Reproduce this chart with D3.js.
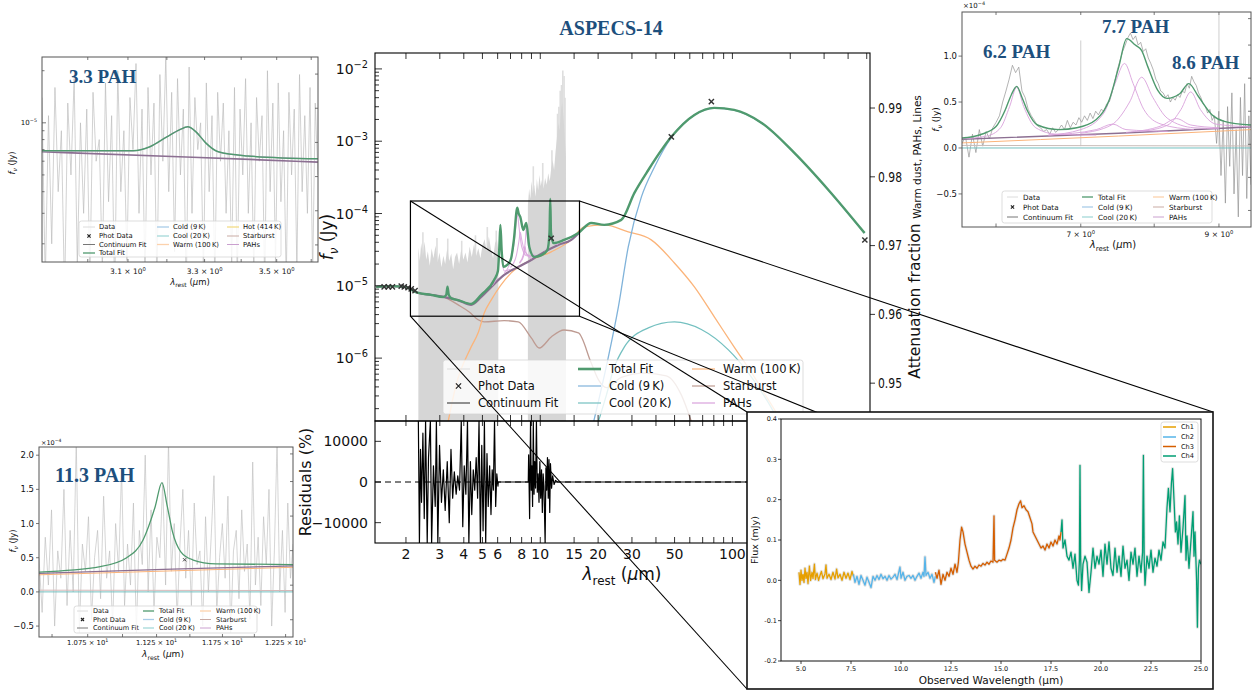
<!DOCTYPE html>
<html><head><meta charset="utf-8"><title>ASPECS-14</title>
<script src="https://cdn.jsdelivr.net/npm/d3@7"></script>
<style>
body{margin:0;background:#fff}
svg text{font-family:"DejaVu Sans",sans-serif;fill:#111}
svg text.serif{font-family:"Liberation Serif","Times New Roman",serif;font-weight:bold;fill:#1d4f7d}
</style></head>
<body><svg id="fig" width="1258" height="691"></svg>
<script>
// ---------------- main SED (rest wavelength um, flux Jy) ----------------
const totalFit = [[1.40,9.66e-6],[1.67,9.9e-6],[1.96,9.66e-6],[2.32,7.97e-6],[2.70,7.5e-6],[3.13,7.02e-6],[3.24,7.5e-6],[3.29,9.7e-6],[3.34,7.5e-6],[3.45,6.7e-6],[3.74,6.35e-6],[4.37,5.62e-6],[4.93,7.5e-6],[5.76,1.21e-5],[6.02,1.6e-5],[6.12,3.3e-5],[6.2,6.96e-5],[6.3,3.0e-5],[6.42,1.83e-5],[6.9,2.1e-5],[7.06,2.43e-5],[7.3,4.5e-5],[7.59,1.2e-4],[7.72,1.0e-4],[7.87,8.97e-5],[8.16,5.93e-5],[8.46,7.41e-5],[8.77,3.45e-5],[9.31,2.51e-5],[10.1,2.64e-5],[10.9,3.14e-5],[11.17,5.5e-5],[11.27,1.59e-4],[11.37,5.5e-5],[11.7,3.9e-5],[13.3,4.31e-5],[15.8,5.39e-5],[18.4,7.41e-5],[21.5,6.96e-5],[26.4,8.16e-5],[30.9,1.93e-4],[36.5,4.0e-4],[48.1,1.15e-3],[63.4,2.31e-3],[80.5,2.89e-3],[102,2.71e-3],[142,1.79e-3],[210,6.9e-4],[316,2.12e-4],[487,5.39e-5]];
const contFit = [[1.40,9.66e-6],[1.67,9.9e-6],[1.96,9.66e-6],[2.32,7.97e-6],[2.70,7.5e-6],[3.13,7.02e-6],[3.74,6.3e-6],[4.37,5.45e-6],[4.93,7.0e-6],[5.56,9.66e-6],[6.49,1.42e-5],[7.68,1.83e-5],[8.98,2.28e-5],[10.5,2.95e-5],[12.4,3.68e-5],[14.5,4.32e-5],[15.8,5.3e-5]];
const coldDust = [[19.0,1.35e-7],[22.1,7.8e-7],[25.5,5.1e-6],[28.7,3.45e-5],[33.6,1.7e-4],[39.3,4.4e-4],[48.1,1.13e-3],[63.4,2.3e-3],[80.5,2.88e-3],[102,2.7e-3],[142,1.78e-3],[210,6.9e-4],[316,2.1e-4],[487,5.35e-5]];
const coolDust = [[20.1,1.35e-7],[22.1,3.1e-7],[24.0,6.9e-7],[27.4,1.43e-6],[36.5,2.62e-6],[49.9,3.17e-6],[68.9,2.49e-6],[95.3,1.3e-6],[121,6.24e-7],[154,2.4e-7],[174,1.35e-7]];
const warmDust = [[3.32,1.35e-7],[3.65,4.3e-7],[4.37,1.43e-6],[4.75,2.24e-6],[5.11,4.2e-6],[5.56,6.38e-6],[7.06,1.51e-5],[8.98,2.28e-5],[11.4,2.95e-5],[14.5,4.32e-5],[16.9,6.53e-5],[21.5,6.96e-5],[28.7,5.57e-5],[37.8,4.32e-5],[49.9,2.07e-5],[63.4,9.66e-6],[80.5,3.72e-6],[102,1.43e-6],[126,6.24e-7],[154,2.64e-7],[180,1.35e-7]];
const starburst = [[1.40,9.66e-6],[1.67,9.9e-6],[1.96,9.66e-6],[2.32,7.97e-6],[2.70,7.5e-6],[3.13,7.02e-6],[3.74,5.45e-6],[4.27,4.35e-6],[4.75,3.39e-6],[5.11,3.17e-6],[6.49,3.3e-6],[7.68,3.17e-6],[8.98,1.9e-6],[9.88,1.38e-6],[11.4,1.96e-6],[13.3,2.45e-6],[15.8,2.23e-6],[18.4,8.6e-7],[20.1,5.0e-7],[22.1,3.9e-7],[26.4,5.4e-7],[34.8,6.2e-7],[45.3,5.7e-7],[54.2,3.1e-7],[61,1.35e-7]];
const pahFeatures = [
  [[3.1,7.0e-6],[3.24,7.5e-6],[3.29,9.5e-6],[3.34,7.5e-6],[3.5,6.7e-6]],
  [[5.6,1.0e-5],[5.95,1.35e-5],[6.1,2.6e-5],[6.2,6.5e-5],[6.3,2.6e-5],[6.5,1.6e-5],[7.0,1.7e-5]],
  [[6.5,1.5e-5],[7.0,2.2e-5],[7.3,3.8e-5],[7.5,7.5e-5],[7.6,1.0e-4],[7.75,6.5e-5],[8.0,3.5e-5],[8.5,2.6e-5],[9.5,2.6e-5]],
  [[7.0,1.8e-5],[7.5,2.6e-5],[7.75,4.2e-5],[7.87,5.5e-5],[8.0,4.4e-5],[8.3,3.0e-5],[9.0,2.5e-5]],
  [[7.8,2.05e-5],[8.2,2.6e-5],[8.33,3.5e-5],[8.45,2.8e-5],[9.0,2.35e-5]],
  [[7.8,2.1e-5],[8.2,2.8e-5],[8.38,4.5e-5],[8.46,6.5e-5],[8.6,4.2e-5],[8.9,2.9e-5],[9.5,2.6e-5]],
  [[10.5,3.0e-5],[11.0,3.6e-5],[11.2,7e-5],[11.27,1.5e-4],[11.35,7e-5],[11.6,4.0e-5],[12.4,3.7e-5]]
];
const photData = [[1.54,9.66e-6],[1.62,9.66e-6],[1.70,9.66e-6],[1.89,9.9e-6],[1.96,9.66e-6],[2.05,9.4e-6],[2.13,9.1e-6],[2.23,8.6e-6],[11.4,4.55e-5],[48.1,1.15e-3],[77.7,3.53e-3],[489,4.3e-5]];
// JWST spectrum drawn as a dense band: upper envelope of the plotted points
const sedDataA = [[2.32,3.4e-5],[2.36,2.2e-5],[2.40,3.9e-5],[2.45,2.6e-5],[2.50,4.1e-5],[2.55,2.3e-5],[2.60,3.0e-5],[2.66,1.9e-5],[2.72,3.3e-5],[2.78,2.4e-5],[2.85,3.6e-5],[2.92,2.1e-5],[2.99,2.9e-5],[3.06,1.8e-5],[3.13,2.6e-5],[3.2,2.0e-5],[3.28,3.3e-5],[3.36,2.2e-5],[3.44,2.8e-5],[3.52,1.7e-5],[3.6,2.5e-5],[3.69,2.9e-5],[3.78,2.0e-5],[3.88,3.2e-5],[3.98,2.3e-5],[4.08,2.9e-5],[4.18,2.1e-5],[4.29,3.5e-5],[4.4,2.5e-5],[4.52,3.8e-5],[4.64,2.6e-5],[4.76,3.3e-5],[4.88,2.4e-5],[5.0,3.6e-5],[5.13,4.4e-5],[5.26,3.0e-5],[5.4,4.8e-5],[5.54,3.2e-5],[5.68,2.4e-5],[5.82,3.9e-5],[5.95,4.4e-5],[6.05,3.0e-5]];
const sedDataB = [[8.62,1.3e-4],[8.75,2.2e-4],[8.88,1.6e-4],[9.0,2.8e-4],[9.15,1.9e-4],[9.3,2.5e-4],[9.45,1.7e-4],[9.6,3.0e-4],[9.75,2.1e-4],[9.9,3.4e-4],[10.05,2.4e-4],[10.2,2.9e-4],[10.4,2.2e-4],[10.6,3.1e-4],[10.8,2.5e-4],[11.0,3.6e-4],[11.2,2.8e-4],[11.4,4.2e-4],[11.6,5.5e-4],[11.8,4.0e-4],[12.0,7.0e-4],[12.2,1.1e-3],[12.4,1.8e-3],[12.6,1.4e-3],[12.8,2.6e-3],[13.0,3.5e-3],[13.2,2.2e-3],[13.4,1.2e-3],[13.6,6e-4]];
const sedSpikes = [[2.45,5.5e-5],[2.9,4.6e-5],[3.3,4.5e-5],[3.9,4.2e-5],[4.6,5e-5],[5.3,6.5e-5],[5.9,5.8e-5],[9.2,4.5e-4],[10.3,5.0e-4],[11.5,7.5e-4],[12.3,2.4e-3],[12.5,3.0e-3],[12.7,5.0e-3],[12.9,6.0e-3],[13.1,9.5e-3],[13.3,8.0e-3],[13.45,4.0e-3]];
const residuals = [[2.32,15000],[2.35,-15000],[2.38,8000],[2.41,-5000],[2.45,12000],[2.49,-9000],[2.53,15000],[2.58,-15000],[2.62,6000],[2.68,15000],[2.72,-15000],[2.78,4000],[2.84,-6000],[2.88,15000],[2.93,-15000],[2.99,9000],[3.06,-5000],[3.13,3000],[3.2,-7000],[3.28,5000],[3.36,-10000],[3.43,8000],[3.5,-4000],[3.57,2500],[3.65,-3000],[3.72,1500],[3.8,-2000],[3.88,15000],[3.95,-11000],[4.02,4000],[4.1,-3000],[4.18,15000],[4.25,-15000],[4.33,5000],[4.4,-8000],[4.48,3000],[4.56,-2000],[4.64,6000],[4.72,-4000],[4.8,15000],[4.88,-15000],[4.96,9000],[5.04,-12000],[5.12,15000],[5.2,-15000],[5.28,7000],[5.36,-6000],[5.45,4000],[5.54,-8000],[5.62,3000],[5.7,-2000],[5.78,15000],[5.86,-6000],[5.94,2000],[6.02,-1000],[6.05,0],
  [8.66,0],[8.7,6700],[8.8,-9000],[8.9,15000],[8.98,-2000],[9.05,4000],[9.12,-6000],[9.2,15000],[9.28,-3000],[9.36,5000],[9.45,-1500],[9.55,15000],[9.65,-2500],[9.75,2000],[9.85,-5000],[9.95,5000],[10.05,-4000],[10.15,3000],[10.25,-7500],[10.35,2000],[10.45,-1000],[10.6,-15000],[10.7,3500],[10.8,-2000],[10.9,6000],[11.0,-4000],[11.1,5500],[11.2,-7500],[11.3,4500],[11.45,-1500],[11.6,1500],[11.8,-600],[12.0,400],[12.3,0],[520,0]];
const zoomLam = [2.11, 16.0];
const zoomFlux = [3.8e-6, 1.49e-4];
const attTicks = [0.95, 0.96, 0.97, 0.98, 0.99];
const resTicks = [-10000, 0, 10000];
const xTickVals = [2,3,4,5,6,7,8,9,10,15,20,30,40,50,60,70,80,90,100,200,300,400,500];
const xTickLabels = [2,3,4,5,6,8,10,15,20,30,50,100,200,300];
const mainLegend = ["Data","Phot Data","Continuum Fit","Total Fit","Cold (9\u2009K)","Cool (20\u2009K)","Warm (100\u2009K)","Starburst","PAHs"];

// ---------------- 3.3 um inset ----------------
const p33Total = [[2.89,6.89e-6],[3.113,6.89e-6],[3.156,7.27e-6],[3.2,8.3e-6],[3.233,9.1e-6],[3.255,9.48e-6],[3.277,8.87e-6],[3.303,7.66e-6],[3.337,6.8e-6],[3.417,6.44e-6],[3.62,6.19e-6]];
const p33Cont = [[2.89,6.8e-6],[3.25,6.35e-6],[3.62,5.93e-6]];
const p33NoiseStart = 2.89, p33NoiseStep = 0.00768; // uJy
const p33Noise = [14,1.2,11,2,16,4,9,1.0,13,5,18,1.5,10,3,12,1.2,15,6,8,1.4,17,3.5,11,1.0,20,4,9,1.6,14,7,22,3,12,1.2,16,5,13,1.1,19,6,24,4,15,1.8,18,5,12,1.0,21,3,14,7,10,1.3,17,4,11,1.2,15,6,13,3,9,1.5,16,1.2,12,5,18,3,10,1.3,14,6,11,1.1,20,4,13,1.5,17,3.5,9,1.2,15,5,12,1.4,19,4,11,3,16,1.3,13,5];
const p33Legend = ["Data","Phot Data","Continuum Fit","Total Fit","Cold (9\u2009K)","Cool (20\u2009K)","Warm (100\u2009K)","Hot (414\u2009K)","Starburst","PAHs"];

// ---------------- 6.2 / 7.7 / 8.6 inset (1e-4 Jy) ----------------
const trTotal = [[5.64,0.108],[5.83,0.144],[6.0,0.233],[6.1,0.41],[6.17,0.58],[6.23,0.67],[6.29,0.55],[6.35,0.41],[6.47,0.25],[6.73,0.2],[6.95,0.22],[7.2,0.31],[7.37,0.52],[7.5,0.88],[7.61,1.19],[7.73,1.12],[7.82,1.06],[7.91,0.88],[8.05,0.63],[8.19,0.54],[8.38,0.59],[8.52,0.70],[8.67,0.56],[8.89,0.36],[9.09,0.29],[9.54,0.25]];
const trCont = [[5.64,0.095],[7.5,0.16],[9.54,0.23]];
const trWarm = [[5.64,0.055],[7.5,0.13],[9.54,0.2]];
const trStar = [[5.64,0.028],[9.54,0.022]];
const trCold = [[5.64,0.0],[9.54,0.0]];
const trPahs = [
  [[5.64,0.1],[5.9,0.13],[6.05,0.22],[6.15,0.45],[6.23,0.66],[6.31,0.45],[6.45,0.22],[6.7,0.15],[7.2,0.14]],
  [[6.6,0.14],[7.0,0.2],[7.3,0.38],[7.45,0.7],[7.58,0.92],[7.7,0.7],[7.85,0.42],[8.1,0.26],[8.6,0.2]],
  [[7.0,0.16],[7.4,0.25],[7.65,0.5],[7.82,0.77],[7.98,0.55],[8.2,0.32],[8.6,0.22],[9.0,0.21]],
  [[7.8,0.18],[8.2,0.25],[8.4,0.42],[8.55,0.61],[8.7,0.42],[8.95,0.26],[9.54,0.23]],
  [[7.6,0.17],[8.1,0.24],[8.33,0.32],[8.55,0.25],[9.0,0.22]],
  [[6.6,0.14],[7.2,0.2],[7.42,0.26],[7.6,0.2],[8.2,0.18]]
];
const trNoiseStart = 5.64, trNoiseStep = 0.0361;
const trNoise = [0.05,0.12,-0.1,0.15,-0.05,0.2,0.02,0.18,0.1,0.22,0.28,0.35,0.5,0.62,0.75,0.9,0.82,0.88,0.62,0.55,0.42,0.35,0.3,0.24,0.22,0.18,0.2,0.15,0.22,0.17,0.2,0.25,0.2,0.3,0.22,0.28,0.25,0.33,0.28,0.35,0.3,0.38,0.32,0.4,0.36,0.42,0.4,0.48,0.5,0.6,0.72,0.85,0.95,1.05,1.12,1.2,1.25,1.18,1.22,1.12,1.15,1.05,1.08,0.98,0.92,0.85,0.75,0.7,0.62,0.6,0.55,0.58,0.5,0.55,0.52,0.58,0.55,0.62,0.6,0.7,0.65,0.78,0.72,0.68,0.6,0.55,0.48,0.45,0.38,0.42,0.3,0.35,0.05,0.4,-0.3,0.3,-0.6,0.45,-0.2,0.6,-0.5,0.2,-0.75,0.55,-0.3,0.7,-0.55,0.35,-0.4];
const trSpikes = [[7.0,1.17],[9.0,1.45]];

// ---------------- 11.3 um inset (1e-4 Jy) ----------------
const p113Total = [[10.41,0.29],[10.84,0.37],[11.03,0.5],[11.15,0.76],[11.24,1.25],[11.29,1.6],[11.33,1.25],[11.37,0.87],[11.43,0.59],[11.52,0.47],[11.7,0.41],[12.31,0.4]];
const p113Cont = [[10.41,0.27],[11.3,0.33],[12.31,0.38]];
const p113Warm = [[10.41,0.25],[12.31,0.36]];
const p113Star = [[10.41,0.025],[12.31,0.02]];
const p113Cold = [[10.41,0.0],[12.31,0.0]];
const p113Phot = [[11.46,0.47]];
const p113NoiseStart = 10.41, p113NoiseStep = 0.0216;
const p113Noise = [0.5,-0.3,0.8,0.1,1.2,-0.5,0.6,0.2,1.5,-0.2,0.9,0.0,2.2,-0.6,0.7,0.3,1.1,-0.4,0.5,0.9,-0.1,1.4,0.2,0.6,-0.5,1.0,0.3,1.8,-0.2,0.7,0.1,1.3,-0.6,0.9,0.4,2.0,0.0,1.2,-0.3,0.8,0.5,1.6,0.1,2.2,0.3,1.0,-0.4,0.7,1.5,0.2,0.9,-0.2,1.3,0.4,0.6,-0.5,1.1,0.0,0.8,1.7,-0.3,0.5,1.0,0.2,1.4,-0.6,0.6,0.9,-0.1,1.2,0.3,0.7,-0.4,1.9,0.1,0.8,-0.2,1.1,0.4,1.5,-0.5,0.6,2.2,0.0,0.9,-0.3,1.3,0.2,0.7];

// ---------------- MIRI spectrum (observed um, mJy) ----------------
const ch1 = [[4.9,0.02],[4.95,-0.01],[5.0,0.025],[5.05,0.0],[5.1,0.015],[5.15,-0.005],[5.2,0.03],[5.25,0.005],[5.3,0.02],[5.35,-0.008],[5.42,0.035],[5.48,0.0],[5.55,0.02],[5.6,0.005],[5.67,0.04],[5.72,0.002],[5.8,0.018],[5.88,0.0],[5.95,0.012],[6.02,0.022],[6.1,0.004],[6.2,0.016],[6.25,0.038],[6.3,0.005],[6.4,0.015],[6.5,0.002],[6.6,0.02],[6.7,0.003],[6.78,0.028],[6.85,0.006],[6.95,0.015],[7.05,0.0],[7.15,0.02],[7.25,0.005],[7.35,0.018],[7.45,0.002],[7.55,0.022],[7.62,0.01]];
const ch2 = [[7.62,0.015],[7.7,-0.005],[7.8,0.01],[7.9,-0.01],[8.0,0.012],[8.1,0.0],[8.2,-0.012],[8.3,0.008],[8.4,-0.005],[8.5,-0.018],[8.6,0.01],[8.7,0.0],[8.8,0.012],[8.9,0.002],[9.0,0.015],[9.1,0.004],[9.2,0.01],[9.3,0.0],[9.4,0.012],[9.5,0.003],[9.6,0.008],[9.7,0.015],[9.8,0.002],[9.95,0.033],[10.0,0.005],[10.1,0.02],[10.2,0.0],[10.3,0.01],[10.4,0.012],[10.5,0.005],[10.6,0.012],[10.7,0.0],[10.8,0.01],[10.9,0.018],[11.0,0.005],[11.1,0.02],[11.15,0.01],[11.2,0.058],[11.25,0.012],[11.35,0.02],[11.45,0.005],[11.55,0.015],[11.65,-0.005],[11.72,0.01]];
const ch3 = [[11.72,0.02],[11.8,0.005],[11.9,0.025],[12.0,-0.01],[12.1,0.015],[12.2,0.0],[12.3,0.02],[12.4,0.01],[12.5,0.03],[12.6,0.015],[12.7,0.04],[12.8,0.02],[12.87,0.045],[12.95,0.1],[13.03,0.132],[13.1,0.12],[13.2,0.09],[13.3,0.07],[13.4,0.05],[13.5,0.035],[13.6,0.028],[13.7,0.035],[13.8,0.03],[13.9,0.038],[14.0,0.035],[14.1,0.042],[14.2,0.038],[14.3,0.045],[14.4,0.04],[14.5,0.048],[14.6,0.045],[14.65,0.16],[14.68,0.05],[14.8,0.045],[14.9,0.05],[15.0,0.048],[15.1,0.052],[15.2,0.05],[15.3,0.065],[15.4,0.08],[15.5,0.1],[15.6,0.13],[15.7,0.15],[15.8,0.175],[15.9,0.19],[15.98,0.197],[16.05,0.18],[16.15,0.185],[16.25,0.175],[16.35,0.17],[16.45,0.155],[16.55,0.14],[16.6,0.12],[16.7,0.11],[16.8,0.1],[16.9,0.09],[17.0,0.08],[17.1,0.085],[17.2,0.075],[17.3,0.09],[17.4,0.08],[17.5,0.095],[17.6,0.085],[17.7,0.1],[17.8,0.09],[17.9,0.11],[17.95,0.1],[18.0,0.12]];
const ch4 = [[18.0,0.12],[18.05,0.15],[18.1,0.08],[18.2,0.1],[18.3,0.06],[18.4,0.05],[18.5,0.07],[18.6,0.03],[18.7,0.065],[18.8,0.0],[18.87,-0.012],[18.92,0.05],[18.95,0.285],[18.98,0.06],[19.03,-0.025],[19.1,0.04],[19.2,0.06],[19.3,0.045],[19.4,-0.03],[19.5,0.02],[19.6,0.08],[19.7,0.03],[19.8,0.06],[19.9,0.04],[20.0,0.075],[20.1,0.01],[20.2,0.09],[20.3,0.04],[20.4,0.095],[20.5,0.03],[20.6,0.012],[20.7,0.08],[20.8,0.02],[20.9,0.06],[21.0,0.01],[21.1,0.085],[21.2,0.03],[21.3,0.05],[21.4,0.0],[21.5,0.07],[21.6,0.04],[21.7,0.08],[21.8,0.01],[21.9,0.06],[22.0,0.02],[22.08,0.07],[22.12,0.31],[22.16,0.05],[22.2,-0.012],[22.3,0.06],[22.4,0.03],[22.5,0.075],[22.6,0.02],[22.7,0.055],[22.8,0.035],[22.9,0.075],[23.0,0.05],[23.1,0.095],[23.2,0.08],[23.3,0.18],[23.37,0.228],[23.45,0.17],[23.52,0.24],[23.58,0.277],[23.65,0.2],[23.72,0.12],[23.78,0.145],[23.85,0.09],[23.92,0.16],[24.0,0.07],[24.1,0.13],[24.2,0.21],[24.25,0.05],[24.3,0.11],[24.4,0.03],[24.5,0.1],[24.6,0.17],[24.65,0.06],[24.7,0.12],[24.78,0.0],[24.82,-0.116],[24.87,0.03],[24.92,0.05],[25.0,0.04]];
const chNames = ["Ch1","Ch2","Ch3","Ch4"];

const col = {total:"#4f9a6e", cold:"#80b3da", cool:"#74c0c0", warm:"#fbb47a", hot:"#f3dc86",
  star:"#be9b92", pah:"#d9a2dc", cont:"#8c6f92", contLeg:"#8f8f8f",
  ch:["#E69F00","#56B4E9","#D55E00","#009E73"]};

// ---------------- helpers ----------------
const svg = d3.select("#fig");
const defs = svg.append("defs");

function clipTo(id, b){
  defs.append("clipPath").attr("id", id).append("rect")
    .attr("x", b.l).attr("y", b.t).attr("width", b.r - b.l).attr("height", b.b - b.t);
  return `url(#${id})`;
}
function frame(g, b, stroke, w){
  g.append("rect").attr("x", b.l).attr("y", b.t).attr("width", b.r - b.l).attr("height", b.b - b.t)
    .attr("fill", "none").attr("stroke", stroke).attr("stroke-width", w);
}
function ticksX(g, sc, vals, y, len, stroke){
  g.append("g").selectAll("line").data(vals).join("line")
    .attr("x1", d => sc(d)).attr("x2", d => sc(d)).attr("y1", y).attr("y2", y + len)
    .attr("stroke", stroke).attr("stroke-width", 0.8);
}
function ticksY(g, sc, vals, x, len, stroke){
  g.append("g").selectAll("line").data(vals).join("line")
    .attr("y1", d => sc(d)).attr("y2", d => sc(d)).attr("x1", x).attr("x2", x + len)
    .attr("stroke", stroke).attr("stroke-width", 0.8);
}
function richText(g, x, y, parts, size, rot, anchor){
  const t = g.append("text").attr("font-size", size).attr("text-anchor", anchor || "middle")
    .attr("transform", `translate(${x},${y})` + (rot ? ` rotate(${rot})` : ""));
  let cur = 0;
  parts.forEach(p => {
    const s = t.append("tspan").text(p.t);
    const off = p.sub ? 0.28 * size : (p.sup ? -0.42 * size : 0);
    if (off !== cur) { s.attr("dy", off - cur); cur = off; }
    if (p.sub || p.sup) s.attr("font-size", size * 0.7);
    if (p.i) s.attr("font-style", "italic");
  });
  return t;
}
const lamParts = [{t:"λ",i:true},{t:"rest",sub:true},{t:" ("},{t:"μ",i:true},{t:"m)"}];
const fnuParts = [{t:"f",i:true},{t:"ν",sub:true,i:true},{t:" (Jy)"}];

function cross(g, x, y, s, color, w){
  g.append("path").attr("d", `M${x-s},${y-s}L${x+s},${y+s}M${x-s},${y+s}L${x+s},${y-s}`)
    .attr("stroke", color).attr("stroke-width", w || 1.5).attr("fill", "none");
}
function lineOf(sx, sy, curve){
  return d3.line().x(d => sx(d[0])).y(d => sy(d[1])).curve(curve || d3.curveMonotoneX);
}
function draw(g, data, gen, color, w, op){
  return g.append("path").datum(data).attr("d", gen).attr("fill", "none")
    .attr("stroke", color).attr("stroke-width", w).attr("stroke-opacity", op == null ? 1 : op)
    .attr("stroke-linejoin", "round");
}
function legend(g, box, items, o){
  g.append("rect").attr("x", box.x).attr("y", box.y).attr("width", box.w).attr("height", box.h)
    .attr("rx", 2.5).attr("fill", "#fff").attr("fill-opacity", 0.82)
    .attr("stroke", "#d4d4d4").attr("stroke-width", 0.8);
  items.forEach(it => {
    const x = box.x + o.colX[it.c], y = box.y + o.rowY[it.r];
    if (it.marker) cross(g, x + o.sw / 2, y, o.ms, "#222", 1.2);
    else g.append("line").attr("x1", x).attr("x2", x + o.sw).attr("y1", y).attr("y2", y)
      .attr("stroke", it.color).attr("stroke-width", it.w || 1);
    g.append("text").attr("x", x + o.sw + o.gap).attr("y", y).attr("dy", "0.35em")
      .attr("font-size", o.fs).text(it.label);
  });
}
const insetLegStyle = [{color:"#dcdcdc"},{marker:true},{color:"#777"},{color:col.total,w:1.3},{color:"#a9cce8",w:1.3},{color:"#a5d8d8",w:1.3},{color:"#fcd2ac",w:1.3},{color:"#c9aba4"},{color:"#caa0cf"}];

// ================= MAIN PANEL =================
const mainBox = {l:375, r:870, t:53, b:421};
const resBox = {l:375, r:870, t:421, b:543};
const xMain = d3.scaleLog().domain([1.38, 520]).range([mainBox.l, mainBox.r]);
const yMain = d3.scaleLog().domain([1.35e-7, 1.66e-2]).range([mainBox.b, mainBox.t]);
const yAtt = d3.scaleLinear().domain([0.9445, 0.998]).range([mainBox.b, mainBox.t]);
const yRes = d3.scaleLinear().domain([-15000, 15000]).range([resBox.b, resBox.t]);

const gMain = svg.append("g");
const cMain = gMain.append("g").attr("clip-path", clipTo("cmain", mainBox));
cMain.selectAll(".spike").data(sedSpikes).join("line")
  .attr("x1", d => xMain(d[0])).attr("x2", d => xMain(d[0]))
  .attr("y1", mainBox.b).attr("y2", d => yMain(d[1]))
  .attr("stroke", "#dedede").attr("stroke-width", 1.6);
const areaMain = d3.area().x(d => xMain(d[0])).y0(mainBox.b).y1(d => yMain(d[1])).curve(d3.curveLinear);
[sedDataA, sedDataB].forEach(d => cMain.append("path").datum(d).attr("d", areaMain)
  .attr("fill", "#d6d6d6"));

const lm = lineOf(xMain, yMain);
draw(cMain, starburst, lm, col.star, 1.3);
draw(cMain, warmDust, lm, col.warm, 1.3);
draw(cMain, coolDust, lm, col.cool, 1.3);
draw(cMain, coldDust, lm, col.cold, 1.3);
draw(cMain, contFit, lm, col.cont, 2.2);
pahFeatures.forEach(p => draw(cMain, p, lm, col.pah, 1.1, 0.85));
draw(cMain, totalFit, lm, col.total, 2.4);
photData.forEach(d => cross(cMain, xMain(d[0]), yMain(d[1]), 2.6, "#333", 1.4));

// main legend
const legItems = mainLegend.map((lab, i) => ({label: lab, c: Math.floor(i / 3), r: i % 3}));
const legStyle = [{color:"#dcdcdc",w:1},{marker:true},{color:col.contLeg,w:2},{color:col.total,w:2.6},
  {color:col.cold,w:1.2},{color:col.cool,w:1.2},{color:col.warm,w:1.2},{color:col.star,w:1.2},{color:col.pah,w:1.2}];
legItems.forEach((it, i) => Object.assign(it, legStyle[i]));
legend(cMain, {x:443, y:360, w:360, h:54}, legItems, {colX:[4,135,249], rowY:[9,26,43], sw:23, gap:8, fs:11.5, ms:2.6});

frame(gMain, mainBox, "#000", 1.1);
ticksX(gMain, xMain, xTickVals, mainBox.t, 6, "#000");
ticksX(gMain, xMain, xTickVals, mainBox.b, -6, "#000");
ticksX(gMain, xMain, xTickVals, resBox.t, 5, "#000");
ticksX(gMain, xMain, xTickVals, resBox.b, -6, "#000");
const yMajor = [1e-6, 1e-5, 1e-4, 1e-3, 1e-2];
const yMinor = [];
for (let e = -7; e <= -2; e++) for (let m = 2; m <= 9; m++) {
  const v = m * Math.pow(10, e);
  if (v > 1.35e-7 && v < 1.66e-2) yMinor.push(v);
}
ticksY(gMain, yMain, yMajor, mainBox.l, 7, "#000");
ticksY(gMain, yMain, yMinor, mainBox.l, 4, "#000");
yMajor.forEach(v => richText(gMain, 368, yMain(v) + 5, [{t:"10"},{t:"−" + Math.round(-Math.log10(v)), sup:true}], 14, 0, "end"));
// right attenuation axis
ticksY(gMain, yAtt, attTicks, mainBox.r, 5, "#000");
attTicks.forEach(v => gMain.append("text")
  .attr("transform", `translate(878,${yAtt(v)}) scale(0.8,1)`).attr("dy", "0.36em")
  .attr("font-size", 13.5).text(v.toFixed(2)));
richText(gMain, 920, 301, [{t:"Attenuation fraction"}], 15.5, -90);
richText(gMain, 921, 157, [{t:"Warm dust, PAHs, Lines"}], 10.5, -90);
richText(gMain, 333, (mainBox.t + mainBox.b) / 2, fnuParts, 17, -90);

// residual panel
const gRes = svg.append("g");
const cRes = gRes.append("g").attr("clip-path", clipTo("cres", resBox));
cRes.append("line").attr("x1", resBox.l).attr("x2", resBox.r).attr("y1", yRes(0)).attr("y2", yRes(0))
  .attr("stroke", "#000").attr("stroke-dasharray", "6,4").attr("stroke-width", 1.2);
draw(cRes, residuals, lineOf(xMain, yRes, d3.curveLinear), "#000", 1.2);
frame(gRes, resBox, "#000", 1.1);
ticksY(gRes, yRes, resTicks, resBox.l, 6, "#000");
resTicks.forEach(v => gRes.append("text").attr("x", 368).attr("y", yRes(v)).attr("dy", "0.36em")
  .attr("text-anchor", "end").attr("font-size", 14).text(v < 0 ? "−" + Math.abs(v) : v));
xTickLabels.forEach(v => gRes.append("text").attr("x", xMain(v)).attr("y", 559)
  .attr("text-anchor", "middle").attr("font-size", 14).text(v));
richText(gRes, 311, (resBox.t + resBox.b) / 2, [{t:"Residuals (%)"}], 16, -90);
richText(gRes, 622, 580, lamParts, 17, 0);

svg.append("text").attr("class", "serif").attr("x", 611).attr("y", 35).attr("text-anchor", "middle")
  .attr("font-size", 20).text("ASPECS-14");

// zoom box + connectors
const zb = {l: xMain(zoomLam[0]), r: xMain(zoomLam[1]), t: yMain(zoomFlux[1]), b: yMain(zoomFlux[0])};
const gZoom = svg.append("g");
frame(gZoom, zb, "#000", 1.2);
const spOuter = {l:747, t:412, r:1213, b:689};
[[zb.l, zb.t, spOuter.l, spOuter.t], [zb.l, zb.b, spOuter.l, spOuter.b],
 [zb.r, zb.t, spOuter.r, spOuter.t], [zb.r, zb.b, spOuter.r, 573]].forEach(s =>
  gZoom.append("line").attr("x1", s[0]).attr("y1", s[1]).attr("x2", s[2]).attr("y2", s[3])
    .attr("stroke", "#000").attr("stroke-width", 1.1));

// ================= INSET: 3.3 PAH =================
{
  const b = {l:42, r:318, t:57, b:262};
  const x = d3.scaleLog().domain([2.89, 3.62]).range([b.l, b.r]);
  const y = d3.scaleLog().domain([1.57e-6, 2.4e-5]).range([b.b, b.t]);
  const twin = d3.scaleLinear().domain([0, 6]).range([b.b, b.t]);
  const g = svg.append("g");
  const c = g.append("g").attr("clip-path", clipTo("c33", b));
  const noise = p33Noise.map((v, i) => [p33NoiseStart + i * p33NoiseStep, v * 1e-6]);
  draw(c, noise, lineOf(x, y, d3.curveLinear), "#b8b8b8", 0.8, 0.8);
  const l = lineOf(x, y);
  draw(c, p33Cont, l, col.cont, 1.6);
  draw(c, p33Total, l, col.pah, 1.2);
  draw(c, p33Total, l, col.total, 1.5);
  frame(g, b, "#555", 1);
  const minor = [2e-6,3e-6,4e-6,5e-6,6e-6,7e-6,8e-6,9e-6,2e-5];
  ticksY(g, y, [1e-5], b.l, 4, "#555"); ticksY(g, y, minor, b.l, 2.5, "#555");
  ticksY(g, twin, [0.5,1.5,2.5,3.5,4.5,5.5], b.r, -3, "#555");
  const xt = [3.0,3.1,3.2,3.3,3.4,3.5,3.6];
  ticksX(g, x, xt, b.b, -3, "#555"); ticksX(g, x, xt, b.t, 3, "#555");
  richText(g, 37, y(1e-5) + 2.5, [{t:"10"},{t:"−5", sup:true}], 7, 0, "end");
  [3.1, 3.3, 3.5].forEach(v => richText(g, x(v), 274, [{t:v.toFixed(1) + " × 10"},{t:"0", sup:true}], 7.5, 0));
  richText(g, 190, 285, lamParts, 8.5, 0);
  richText(g, 15, 163, fnuParts, 8.5, -90);
  g.append("text").attr("class", "serif").attr("x", 69).attr("y", 83).attr("font-size", 19).text("3.3 PAH");
  const items = p33Legend.map((lab, i) => i < 4 ? {label: lab, c: 0, r: i} : i < 7 ? {label: lab, c: 1, r: i - 4} : {label: lab, c: 2, r: i - 7});
  const st = [{color:"#dcdcdc"},{marker:true},{color:"#777"},{color:col.total,w:1.3},{color:"#a9cce8",w:1.3},{color:"#a5d8d8",w:1.3},{color:"#fcd2ac",w:1.3},{color:col.hot,w:1.3},{color:"#c9aba4"},{color:"#caa0cf"}];
  items.forEach((it, i) => Object.assign(it, st[i]));
  legend(g, {x:79, y:221, w:202, h:36}, items, {colX:[4,78,148], rowY:[6,15,23.5,32], sw:12, gap:4, fs:6.8, ms:1.6});
}

// ================= INSET: 6.2 / 7.7 / 8.6 PAH =================
{
  const b = {l:962, r:1251, t:12, b:227};
  const x = d3.scaleLog().domain([5.64, 9.54]).range([b.l, b.r]);
  const y = d3.scaleLinear().domain([-0.86, 1.48]).range([b.b, b.t]);
  const twin = d3.scaleLinear().domain([0, 6.5]).range([b.b, b.t]);
  const g = svg.append("g");
  const c = g.append("g").attr("clip-path", clipTo("ctr", b));
  trSpikes.forEach(s => c.append("line").attr("x1", x(s[0])).attr("x2", x(s[0])).attr("y1", y(0.02)).attr("y2", y(s[1]))
    .attr("stroke", "#c8c8c8").attr("stroke-width", 0.9));
  const noise = trNoise.map((v, i) => [trNoiseStart + i * trNoiseStep, v]);
  draw(c, noise, lineOf(x, y, d3.curveLinear), "#8f8f8f", 0.9, 0.75);
  const l = lineOf(x, y);
  draw(c, trCold, l, col.cool, 1);
  draw(c, trStar, l, "#c8bcb8", 1);
  draw(c, trWarm, l, col.warm, 1);
  draw(c, trCont, l, col.cont, 1.4);
  trPahs.forEach(p => draw(c, p, l, col.pah, 1, 0.9));
  draw(c, trTotal, l, col.total, 1.4);
  frame(g, b, "#555", 1);
  const yt = [-0.5, 0, 0.5, 1.0];
  ticksY(g, y, yt, b.l, -3.5, "#555");
  ticksY(g, twin, [0.5,1.5,2.5,3.5,4.5,5.5,6.3], b.r, -3, "#555");
  yt.forEach(v => g.append("text").attr("x", 957).attr("y", y(v)).attr("dy", "0.36em").attr("text-anchor", "end")
    .attr("font-size", 8.5).text(v < 0 ? "−" + Math.abs(v).toFixed(1) : v.toFixed(1)));
  ticksX(g, x, [6,7,8,9], b.b, -3.5, "#555"); ticksX(g, x, [6,7,8,9], b.t, 3, "#555");
  [7, 9].forEach(v => richText(g, x(v), 237, [{t:v + " × 10"},{t:"0", sup:true}], 7.5, 0));
  richText(g, 1113, 248, lamParts, 10, 0);
  richText(g, 939, (b.t + b.b) / 2, fnuParts, 9, -90);
  richText(g, 963, 8, [{t:"×10"},{t:"−4", sup:true}], 7, 0, "start");
  g.append("text").attr("class", "serif").attr("x", 983).attr("y", 58).attr("font-size", 19).text("6.2 PAH");
  g.append("text").attr("class", "serif").attr("x", 1102).attr("y", 33).attr("font-size", 19).text("7.7 PAH");
  g.append("text").attr("class", "serif").attr("x", 1172).attr("y", 69).attr("font-size", 19).text("8.6 PAH");
  const items = mainLegend.map((lab, i) => Object.assign({label: lab, c: Math.floor(i / 3), r: i % 3}, insetLegStyle[i]));
  legend(g, {x:1002, y:191, w:210, h:32}, items, {colX:[5,80,151], rowY:[6,16,26], sw:11, gap:5, fs:7.2, ms:1.6});
}

// ================= INSET: 11.3 PAH =================
{
  const b = {l:39, r:293, t:447, b:637};
  const x = d3.scaleLog().domain([10.41, 12.31]).range([b.l, b.r]);
  const y = d3.scaleLinear().domain([-0.66, 2.12]).range([b.b, b.t]);
  const twin = d3.scaleLinear().domain([0, 5.5]).range([b.b, b.t]);
  const g = svg.append("g");
  const c = g.append("g").attr("clip-path", clipTo("c113", b));
  const noise = p113Noise.map((v, i) => [p113NoiseStart + i * p113NoiseStep, v]);
  draw(c, noise, lineOf(x, y, d3.curveLinear), "#bdbdbd", 0.8, 0.8);
  const l = lineOf(x, y);
  draw(c, p113Cold, l, col.cool, 1);
  draw(c, p113Star, l, "#d6b8b8", 1);
  draw(c, p113Warm, l, col.warm, 1);
  draw(c, p113Cont, l, col.cont, 1.3);
  draw(c, p113Total, l, col.total, 1.3);
  p113Phot.forEach(d => cross(c, x(d[0]), y(d[1]), 1.6, "#444", 1));
  frame(g, b, "#555", 1);
  const yt = [-0.5, 0, 0.5, 1.0, 1.5, 2.0];
  ticksY(g, y, yt, b.l, -3, "#555");
  ticksY(g, twin, [0.5,1.5,2.5,3.5,4.5,5.3], b.r, -3, "#555");
  yt.forEach(v => g.append("text").attr("x", 34).attr("y", y(v)).attr("dy", "0.36em").attr("text-anchor", "end")
    .attr("font-size", 8.5).text(v < 0 ? "−" + Math.abs(v).toFixed(1) : v.toFixed(1)));
  const xt = [10.5,10.75,11,11.25,11.5,11.75,12,12.25];
  ticksX(g, x, xt, b.b, -3, "#555");
  [10.75, 11.25, 11.75, 12.25].forEach(v => richText(g, x(v), 645, [{t:(v / 10).toFixed(3) + " × 10"},{t:"1", sup:true}], 6.8, 0));
  richText(g, 163, 657, lamParts, 9, 0);
  richText(g, 16, 541, fnuParts, 8.5, -90);
  richText(g, 41, 445, [{t:"×10"},{t:"−4", sup:true}], 6.5, 0, "start");
  g.append("text").attr("class", "serif").attr("x", 55).attr("y", 482).attr("font-size", 20).text("11.3 PAH");
  const items = mainLegend.map((lab, i) => Object.assign({label: lab, c: Math.floor(i / 3), r: i % 3}, insetLegStyle[i]));
  legend(g, {x:74, y:606, w:183, h:27}, items, {colX:[3,69,126], rowY:[5,13.5,22], sw:11, gap:5, fs:6.6, ms:1.5});
}

// ================= INSET: MIRI spectrum =================
{
  const g = svg.append("g");
  g.append("rect").attr("x", spOuter.l).attr("y", spOuter.t).attr("width", spOuter.r - spOuter.l)
    .attr("height", spOuter.b - spOuter.t).attr("fill", "#fff").attr("stroke", "#111").attr("stroke-width", 1.6);
  const b = {l:781, r:1201, t:419, b:661};
  const x = d3.scaleLinear().domain([4, 25]).range([b.l, b.r]);
  const y = d3.scaleLinear().domain([-0.2, 0.4]).range([b.b, b.t]);
  const c = g.append("g").attr("clip-path", clipTo("csp", b));
  const l = lineOf(x, y, d3.curveLinear);
  [ch1, ch2, ch3, ch4].forEach(d => draw(c, d, l, "#e4e4e4", 3.2));
  [ch1, ch2, ch3, ch4].forEach((d, i) => draw(c, d, l, col.ch[i], 1.3));
  frame(g, b, "#111", 1);
  const yt = [-0.2,-0.1,0,0.1,0.2,0.3,0.4];
  ticksY(g, y, yt, b.l, -3, "#111");
  yt.forEach(v => g.append("text").attr("x", 777).attr("y", y(v)).attr("dy", "0.36em").attr("text-anchor", "end")
    .attr("font-size", 6.5).text(v.toFixed(1)));
  const xt = [5,7.5,10,12.5,15,17.5,20,22.5,25];
  ticksX(g, x, xt, b.b, 3, "#111");
  xt.forEach(v => g.append("text").attr("x", x(v)).attr("y", 671).attr("text-anchor", "middle")
    .attr("font-size", 6.5).text(v.toFixed(1)));
  g.append("text").attr("x", 991).attr("y", 684).attr("text-anchor", "middle").attr("font-size", 10.5)
    .text("Observed Wavelength (μm)");
  g.append("text").attr("transform", "translate(758,540) rotate(-90)").attr("text-anchor", "middle")
    .attr("font-size", 9.5).text("Flux (mJy)");
  const items = chNames.map((n, i) => ({label: n, c: 0, r: i, color: col.ch[i], w: 1.5}));
  legend(g, {x:1161, y:422, w:37, h:40}, items, {colX:[2], rowY:[5,15,24.5,34], sw:13, gap:5, fs:6.6, ms:1.5});
}
</script></body></html>
